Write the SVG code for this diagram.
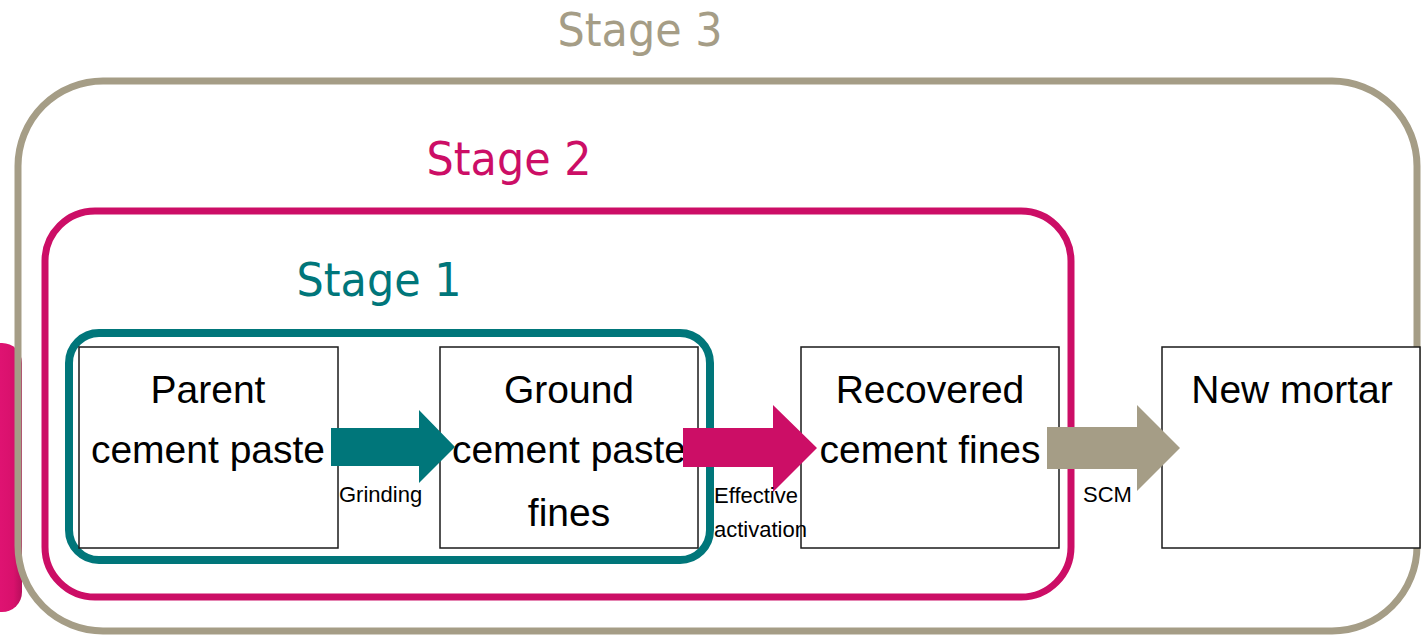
<svg xmlns="http://www.w3.org/2000/svg" width="1421" height="639" viewBox="0 0 1421 639">
<defs>
<style>
.stage{font-family:"DejaVu Sans","Liberation Sans",sans-serif;font-size:46px;text-anchor:middle}
.box{fill:#fff;stroke:#1a1a1a;stroke-width:1.5}
.bt{font-family:"Liberation Sans",Arial,sans-serif;font-size:39px;fill:#000;text-anchor:middle}
.lbl{font-family:"Liberation Sans",Arial,sans-serif;font-size:22px;fill:#000}
</style>
<linearGradient id="blob" x1="0" y1="0" x2="1" y2="0">
<stop offset="0" stop-color="#E8167A"/>
<stop offset="0.8" stop-color="#D8116C"/>
<stop offset="1" stop-color="#B80E5C"/>
</linearGradient>
</defs>
<rect width="1421" height="639" fill="#fff"/>
<g id="side-tab">
<path d="M-20,343 H2 A20,20 0 0 1 22,363 V592 A20,20 0 0 1 2,612 H-20 Z" fill="url(#blob)"/>
</g>
<g id="stage3">
<rect x="18" y="81" width="1399" height="550" rx="85" ry="85" fill="none" stroke="#A59D86" stroke-width="7"/>
<text class="stage" x="640" y="46" fill="#A59D86" textLength="165" lengthAdjust="spacingAndGlyphs">Stage 3</text>
</g>
<g id="stage2">
<rect x="45" y="211" width="1026" height="386" rx="50" ry="50" fill="none" stroke="#CC0E66" stroke-width="7"/>
<text class="stage" x="509" y="175" fill="#CC0E66" textLength="165" lengthAdjust="spacingAndGlyphs">Stage 2</text>
</g>
<g id="stage1">
<rect x="69" y="333" width="641" height="227" rx="30" ry="30" fill="none" stroke="#00767A" stroke-width="8"/>
<text class="stage" x="379" y="296" fill="#00767A" textLength="165" lengthAdjust="spacingAndGlyphs">Stage 1</text>
</g>
<g id="parent">
<rect class="box" x="79" y="347" width="259" height="201"/>
<text class="bt" x="208" y="403">Parent</text>
<text class="bt" x="208" y="463">cement paste</text>
</g>
<g id="ground">
<rect class="box" x="440" y="347" width="258" height="201"/>
<text class="bt" x="569" y="403">Ground</text>
<text class="bt" x="569" y="463">cement paste</text>
<text class="bt" x="569" y="526">fines</text>
</g>
<g id="recovered">
<rect class="box" x="801" y="347" width="258" height="201"/>
<text class="bt" x="930" y="403">Recovered</text>
<text class="bt" x="930" y="463">cement fines</text>
</g>
<g id="newmortar">
<rect class="box" x="1162" y="347" width="258" height="201"/>
<text class="bt" x="1292" y="403">New mortar</text>
</g>
<g id="connectors">
<polygon points="331,428 419,428 419,410 455,447 419,483 419,466 331,466" fill="#00767A"/>
<polygon points="683,428 773,428 773,405 817,448 773,492 773,467 683,467" fill="#CC0E66"/>
<polygon points="1047,427 1137,427 1137,405 1180,448 1137,491 1137,469 1047,469" fill="#A59D86"/>
<text class="lbl" x="339" y="502">Grinding</text>
<text class="lbl" x="714" y="503">Effective</text>
<text class="lbl" x="714" y="537">activation</text>
<text class="lbl" x="1083" y="502">SCM</text>
</g>
</svg>
